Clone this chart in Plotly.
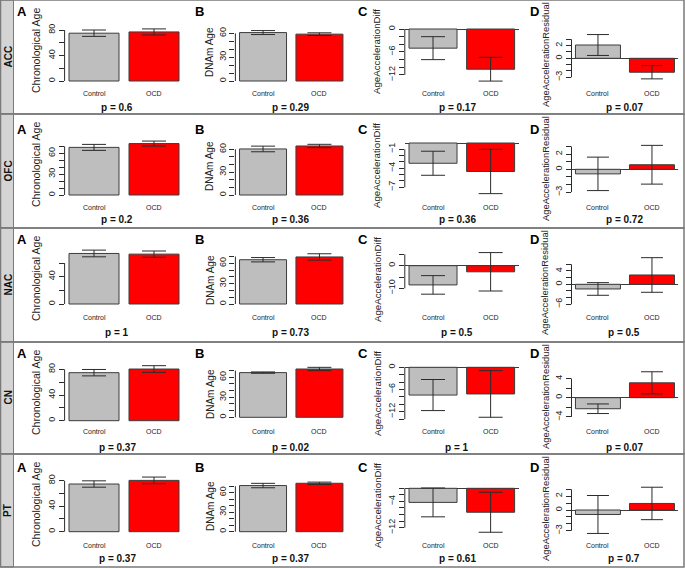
import plotly.graph_objects as go

W, H = 685, 568

# ---------------- data ----------------
regions = ["ACC", "OFC", "NAC", "CN", "PT"]
groups = ["Control", "OCD"]
panel_letters = ["A", "B", "C", "D"]
measures = ["Chronological Age", "DNAm Age", "AgeAccelerationDiff", "AgeAccelerationResidual"]

# [Control, OCD] for each region
chron_age = [[75.0, 77.0], [68.5, 74.0], [74.0, 73.0], [74.8, 80.5], [74.8, 80.5]]
chron_age_err = [[5.0, 4.7], [4.3, 3.6], [4.9, 4.6], [5.0, 5.2], [5.0, 5.2]]
dnam_age = [[61.0, 59.0], [60.5, 64.4], [65.3, 69.4], [67.0, 72.4], [71.0, 74.5]]
dnam_age_err = [[2.5, 1.7], [3.7, 2.2], [3.2, 4.7], [1.0, 2.5], [3.4, 1.8]]
age_acc_diff = [[-5.0, -10.5], [-3.2, -4.5], [-8.5, -2.7], [-7.5, -7.2], [-4.3, -7.3]]
age_acc_diff_err = [[3.0, 3.1], [1.9, 3.5], [4.1, 8.5], [4.2, 6.3], [4.4, 6.1]]
age_acc_resid = [[2.1, -2.2], [-0.6, 0.6], [-1.4, 2.8], [-2.3, 3.1], [-0.65, 0.95]]
age_acc_resid_err = [[1.65, 1.05], [2.2, 2.55], [1.9, 5.2], [1.0, 2.3], [2.75, 2.35]]

p_values = [
    ["0.6", "0.29", "0.17", "0.07"],
    ["0.2", "0.36", "0.36", "0.72"],
    ["1", "0.73", "0.5", "0.5"],
    ["0.37", "0.02", "1", "0.07"],
    ["0.37", "0.37", "0.61", "0.7"],
]

# y-axis ticks and their labels (blank = unlabeled tick)
y_ticks = [
    [[0, 20, 40, 60, 80], [0, 10, 20, 30, 40, 50, 60], [0, -2, -4, -6, -8, -10, -12], [-3, -2, -1, 0, 1, 2, 3]],
    [[0, 10, 20, 30, 40, 50, 60, 70], [0, 10, 20, 30, 40, 50, 60], [-1, -2, -3, -4, -5, -6, -7], [-3, -2, -1, 0, 1, 2, 3]],
    [[0, 20, 40, 60], [0, 10, 20, 30, 40, 50, 60, 70], [5, 0, -5, -10], [-6, -4, -2, 0, 2, 4, 6]],
    [[0, 20, 40, 60, 80], [0, 10, 20, 30, 40, 50, 60, 70], [0, -2, -4, -6, -8, -10, -12, -14], [-4, -2, 0, 2, 4]],
    [[0, 20, 40, 60, 80], [0, 10, 20, 30, 40, 50, 60, 70], [0, -2, -4, -6, -8, -10, -12], [-3, -2, -1, 0, 1, 2, 3]],
]
y_tick_labels = [
    [["0", "", "40", "", "80"], ["0", "", "", "30", "", "", "60"], ["0", "", "", "−6", "", "", "−12"], ["−3", "", "", "0", "", "2", ""]],
    [["0", "", "", "30", "", "", "60", ""], ["0", "", "", "30", "", "", "60"], ["−1", "", "", "−4", "", "", "−7"], ["−3", "", "", "0", "", "2", ""]],
    [["0", "", "40", ""], ["0", "", "", "30", "", "", "60", ""], ["", "0", "", "−10"], ["−6", "", "", "0", "", "4", ""]],
    [["0", "", "40", "", "80"], ["0", "", "", "30", "", "", "60", ""], ["0", "", "", "−6", "", "", "−12", ""], ["−4", "", "0", "", "4"]],
    [["0", "", "40", "", "80"], ["0", "", "", "30", "", "", "60", ""], ["", "", "−4", "", "", "", "−12"], ["−3", "", "", "0", "", "2", ""]],
]

means = [chron_age, dnam_age, age_acc_diff, age_acc_resid]
errs = [chron_age_err, dnam_age_err, age_acc_diff_err, age_acc_resid_err]

# ---------------- layout geometry (pixels) ----------------
row_tops = [0, 114, 228, 342, 454]
row_bottom = 567
col_left = [64.6, 235.4, 404.8, 571.5]
col_barw = [50, 47, 48, 45]
zero_px = [[81, 81, 29, 58.3], [81, 81, 29, 55.3], [76, 76, 37.7, 56.3],
           [78.7, 75.3, 25.3, 55.7], [77.7, 77.7, 34.3, 56]]
px_per_unit = [[0.6375, 0.794, 3.83, 6.33], [0.695, 0.761, 6.33, 7.6], [0.683, 0.678, 2.26, 3.33],
               [0.642, 0.667, 3.7, 4.8], [0.6375, 0.65, 3.28, 6.9]]
letter_x = [22, 199, 363, 534]
letter_y = [11, 15, 11, 12, 13]
title_x = [36, 210, 377, 545]
title_y = [51, 52, 52, 55]
title_size = [10.5, 10, 9.7, 9.4]
xlab_y = [93, 93, 89, 89, 91]
p_x = [117, 290, 457, 624]
p_y = [107, 106, 104, 105, 104]

XLIM = [0.112, 2.488]
BARX = [0.7, 1.9]
DOM_TOP, DOM_BOT = 14, 92
BAR_COLORS = ["#BEBEBE", "#FF0000"]
INK = "#2b2b2b"
FONT = "Liberation Sans, Arial, sans-serif"
NARROW = "Liberation Sans Narrow, Arial Narrow, Liberation Sans, sans-serif"


def px(x):
    return x / W


def py(y):
    return 1 - y / H


def note(text, x, y, size, xref="paper", angle=0, color="#111", family=FONT):
    return dict(text=text, xref=xref, yref="paper", x=x, y=y, textangle=angle,
                xanchor="center", yanchor="middle", showarrow=False,
                font=dict(family=family, size=size, color=color))


fig = go.Figure()
layout = {}
shapes = []
annotations = []

# frame: label strip and row boxes
for r in range(5):
    top = row_tops[r]
    bot = row_tops[r + 1] if r < 4 else row_bottom
    shapes.append(dict(type="rect", xref="paper", yref="paper", x0=px(0.5), x1=px(13.5),
                       y0=py(bot), y1=py(top), fillcolor="#D4D4D4", line=dict(color="#7a7a7a", width=1),
                       layer="below"))
    shapes.append(dict(type="rect", xref="paper", yref="paper", x0=px(0.5), x1=px(684),
                       y0=py(bot), y1=py(top), line=dict(color="#7a7a7a", width=1.5),
                       fillcolor="rgba(0,0,0,0)", layer="below"))
    annotations.append(note("<b>%s</b>" % regions[r], px(7.5), py((top + bot) / 2), 10, angle=-90))

idx = 0
for r in range(5):
    for c in range(4):
        idx += 1
        xa = "x" if idx == 1 else "x%d" % idx
        ya = "y" if idx == 1 else "y%d" % idx
        w = col_barw[c]
        fig.add_trace(go.Bar(
            x=BARX, y=means[c][r], width=1,
            marker=dict(color=BAR_COLORS, line=dict(color="#3c3c3c", width=1)),
            error_y=dict(type="data", array=errs[c][r], visible=True, color=INK,
                         thickness=1, width=round(0.25 * w)),
            xaxis=xa, yaxis=ya, showlegend=False, hoverinfo="skip"))

        left = col_left[c]
        right = left + (XLIM[1] - XLIM[0]) * w
        top = row_tops[r] + DOM_TOP
        bot = row_tops[r] + DOM_BOT
        z = row_tops[r] + zero_px[r][c]
        k = px_per_unit[r][c]
        ymax = (z - top) / k
        ymin = (z - bot) / k

        layout["xaxis" if idx == 1 else "xaxis%d" % idx] = dict(
            domain=[px(left), px(right)], range=XLIM, visible=False, anchor=ya, fixedrange=True)
        layout["yaxis" if idx == 1 else "yaxis%d" % idx] = dict(
            domain=[py(bot), py(top)], range=[ymin, ymax], anchor=xa,
            showgrid=False, showline=False,
            zeroline=(c >= 2), zerolinecolor="#3c3c3c", zerolinewidth=1,
            ticks="outside", ticklen=5, tickwidth=1, tickcolor=INK,
            tickvals=y_ticks[r][c], ticktext=y_tick_labels[r][c], tickangle=-90,
            tickfont=dict(family=FONT, size=9, color="#222"), fixedrange=True)

        # R-style axis line between first and last tick
        shapes.append(dict(type="line", xref="%s domain" % xa, yref=ya, x0=0, x1=0,
                           y0=min(y_ticks[r][c]), y1=max(y_ticks[r][c]),
                           line=dict(color=INK, width=1)))

        annotations.append(note("<b>%s</b>" % panel_letters[c], px(letter_x[c]),
                                py(row_tops[r] + letter_y[r]), 13, color="#000"))
        annotations.append(note(measures[c], px(title_x[c]), py(row_tops[r] + title_y[c]),
                                title_size[c], angle=-90, color="#222"))
        for g in range(2):
            annotations.append(note(groups[g], BARX[g], py(row_tops[r] + xlab_y[r]), 7,
                                    xref=xa, color="#222"))
        annotations.append(note("<b>p = %s</b>" % p_values[r][c], px(p_x[c]),
                                py(row_tops[r] + p_y[r]), 10, family=NARROW))

fig.update_layout(
    width=W, height=H, margin=dict(l=0, r=0, t=0, b=0),
    paper_bgcolor="white", plot_bgcolor="rgba(0,0,0,0)",
    shapes=shapes, annotations=annotations, barmode="group",
    **layout)

fig.write_html("out.html", config={"displayModeBar": False},
               post_script="document.body.style.margin='0px';")
